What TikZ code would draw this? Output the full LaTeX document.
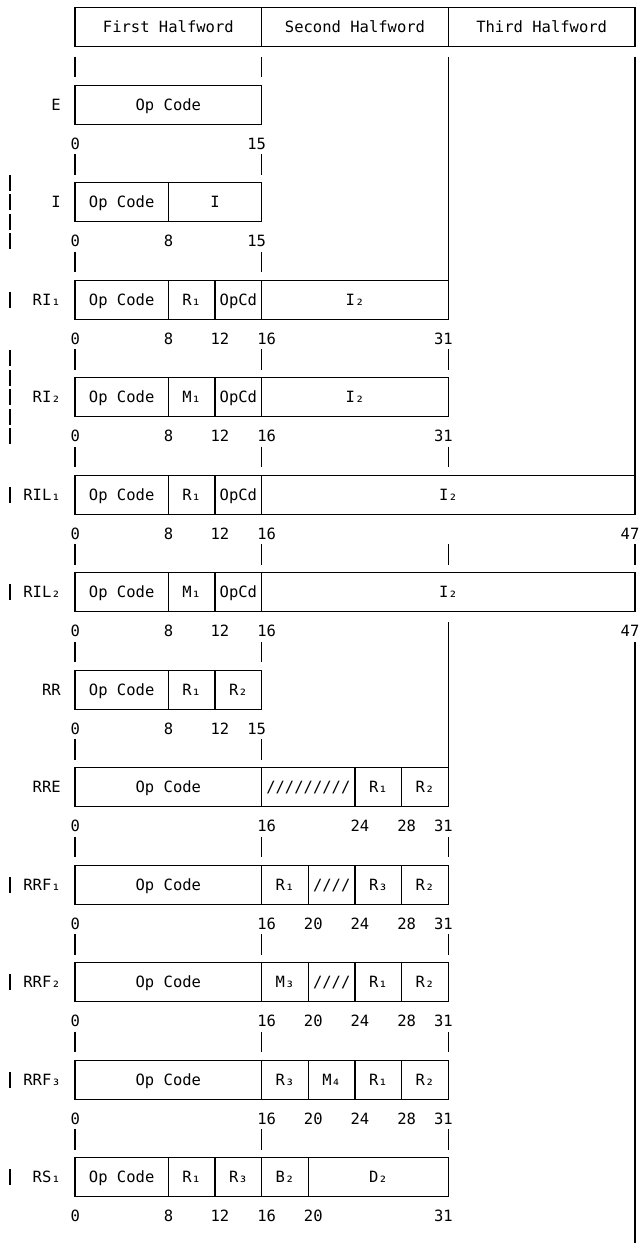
\documentclass[tikz,border=0pt]{standalone}
\usepackage{fontspec}
\newfontfamily\fmtfont{DejaVu Sans Mono}
\newcommand{\fmtnamex}{-1.2}
\newcommand{\fmtbarx}{-5.57}
\newcommand{\fmtup}{0.45}
\newcommand{\fmtdown}{0.6}
\newcommand{\fmttick}[2]{\draw[fmtline] (#1,#2-\fmtup) -- (#1,#2+\fmtdown);}
\newcommand{\chgbar}[1]{\draw[fmtline] (\fmtbarx,#1-0.4) -- (\fmtbarx,#1+0.4);}

\begin{document}
\begin{tikzpicture}[x=8.75pt,y=-14.625pt,
    font=\fmtfont\fontsize{11.63pt}{14pt}\selectfont,
    fmtline/.style={line width=0.8pt},
    every node/.style={inner sep=0pt,text height=8.48pt,text depth=0pt},
    lbls/.style={anchor=west,xshift=-3.5pt},
    lble/.style={anchor=east,xshift=3.5pt},
    fname/.style={anchor=east}]
  \useasboundingbox (-6.4286,0.6308) rectangle (48.6,64.374);

  \draw[fmtline] (0,1) rectangle (48,3) (16,1) -- (16,3) (32,1) -- (32,3);
  \node (hw1) at (8,2) {First Halfword};
  \node (hw2) at (24,2) {Second Halfword};
  \node (hw3) at (40,2) {Third Halfword};
  \fmttick{0}{4} \fmttick{16}{4}
  \draw[fmtline] (32,4-\fmtup) -- (32,15);
  \draw[fmtline] (48,4-\fmtup) -- (48,25);

  \draw[fmtline] (0,5) rectangle (16,7);
  \node[fname] (e-name) at (\fmtnamex,6) {E};
  \node (e-op) at (8,6) {Op Code};
  \node[lbls] (e-b0) at (0,8) {0};
  \node[lble] (e-b15) at (16,8) {15};
  \fmttick{0}{9} \fmttick{16}{9}

  \chgbar{10} \chgbar{11} \chgbar{12} \chgbar{13}
  \draw[fmtline] (0,10) rectangle (16,12) (8,10) -- (8,12);
  \node[fname] (i-name) at (\fmtnamex,11) {I};
  \node (i-op) at (4,11) {Op Code};
  \node (i-i) at (12,11) {I};
  \node[lbls] (i-b0) at (0,13) {0};
  \node[lbls] (i-b8) at (8,13) {8};
  \node[lble] (i-b15) at (16,13) {15};
  \fmttick{0}{14} \fmttick{16}{14}

  \chgbar{16}
  \draw[fmtline] (0,15) rectangle (32,17) (8,15) -- (8,17)
    (12,15) -- (12,17) (16,15) -- (16,17);
  \node[fname] (ria-name) at (\fmtnamex,16) {RI₁};
  \node (ria-op) at (4,16) {Op Code};
  \node (ria-r1) at (10,16) {R₁};
  \node (ria-opcd) at (14,16) {OpCd};
  \node (ria-i2) at (24,16) {I₂};
  \node[lbls] (ria-b0) at (0,18) {0};
  \node[lbls] (ria-b8) at (8,18) {8};
  \node[lbls] (ria-b12) at (12,18) {12};
  \node[lbls] (ria-b16) at (16,18) {16};
  \node[lble] (ria-b31) at (32,18) {31};
  \fmttick{0}{19} \fmttick{16}{19} \fmttick{32}{19}

  \chgbar{19} \chgbar{20} \chgbar{21} \chgbar{22} \chgbar{23}
  \draw[fmtline] (0,20) rectangle (32,22) (8,20) -- (8,22)
    (12,20) -- (12,22) (16,20) -- (16,22);
  \node[fname] (rib-name) at (\fmtnamex,21) {RI₂};
  \node (rib-op) at (4,21) {Op Code};
  \node (rib-m1) at (10,21) {M₁};
  \node (rib-opcd) at (14,21) {OpCd};
  \node (rib-i2) at (24,21) {I₂};
  \node[lbls] (rib-b0) at (0,23) {0};
  \node[lbls] (rib-b8) at (8,23) {8};
  \node[lbls] (rib-b12) at (12,23) {12};
  \node[lbls] (rib-b16) at (16,23) {16};
  \node[lble] (rib-b31) at (32,23) {31};
  \fmttick{0}{24} \fmttick{16}{24} \fmttick{32}{24}

  \chgbar{26}
  \draw[fmtline] (0,25) rectangle (48,27) (8,25) -- (8,27)
    (12,25) -- (12,27) (16,25) -- (16,27);
  \node[fname] (rila-name) at (\fmtnamex,26) {RIL₁};
  \node (rila-op) at (4,26) {Op Code};
  \node (rila-r1) at (10,26) {R₁};
  \node (rila-opcd) at (14,26) {OpCd};
  \node (rila-i2) at (32,26) {I₂};
  \node[lbls] (rila-b0) at (0,28) {0};
  \node[lbls] (rila-b8) at (8,28) {8};
  \node[lbls] (rila-b12) at (12,28) {12};
  \node[lbls] (rila-b16) at (16,28) {16};
  \node[lble] (rila-b47) at (48,28) {47};
  \fmttick{0}{29} \fmttick{16}{29} \fmttick{32}{29} \fmttick{48}{29}

  \chgbar{31}
  \draw[fmtline] (0,30) rectangle (48,32) (8,30) -- (8,32)
    (12,30) -- (12,32) (16,30) -- (16,32);
  \node[fname] (rilb-name) at (\fmtnamex,31) {RIL₂};
  \node (rilb-op) at (4,31) {Op Code};
  \node (rilb-m1) at (10,31) {M₁};
  \node (rilb-opcd) at (14,31) {OpCd};
  \node (rilb-i2) at (32,31) {I₂};
  \node[lbls] (rilb-b0) at (0,33) {0};
  \node[lbls] (rilb-b8) at (8,33) {8};
  \node[lbls] (rilb-b12) at (12,33) {12};
  \node[lbls] (rilb-b16) at (16,33) {16};
  \node[lble] (rilb-b47) at (48,33) {47};
  \fmttick{0}{34} \fmttick{16}{34}
  \draw[fmtline] (32,33-\fmtup) -- (32,40);
  \draw[fmtline] (48,34-\fmtup) -- (48,64.374);

  \draw[fmtline] (0,35) rectangle (16,37) (8,35) -- (8,37) (12,35) -- (12,37);
  \node[fname] (rr-name) at (\fmtnamex,36) {RR};
  \node (rr-op) at (4,36) {Op Code};
  \node (rr-r1) at (10,36) {R₁};
  \node (rr-r2) at (14,36) {R₂};
  \node[lbls] (rr-b0) at (0,38) {0};
  \node[lbls] (rr-b8) at (8,38) {8};
  \node[lbls] (rr-b12) at (12,38) {12};
  \node[lble] (rr-b15) at (16,38) {15};
  \fmttick{0}{39} \fmttick{16}{39}

  \draw[fmtline] (0,40) rectangle (32,42) (16,40) -- (16,42)
    (24,40) -- (24,42) (28,40) -- (28,42);
  \node[fname] (rre-name) at (\fmtnamex,41) {RRE};
  \node (rre-op) at (8,41) {Op Code};
  \node (rre-x) at (20,41) {/////////};
  \node (rre-r1) at (26,41) {R₁};
  \node (rre-r2) at (30,41) {R₂};
  \node[lbls] (rre-b0) at (0,43) {0};
  \node[lbls] (rre-b16) at (16,43) {16};
  \node[lbls] (rre-b24) at (24,43) {24};
  \node[lbls] (rre-b28) at (28,43) {28};
  \node[lble] (rre-b31) at (32,43) {31};
  \fmttick{0}{44} \fmttick{16}{44} \fmttick{32}{44}

  \chgbar{46}
  \draw[fmtline] (0,45) rectangle (32,47) (16,45) -- (16,47)
    (20,45) -- (20,47) (24,45) -- (24,47) (28,45) -- (28,47);
  \node[fname] (rrfa-name) at (\fmtnamex,46) {RRF₁};
  \node (rrfa-op) at (8,46) {Op Code};
  \node (rrfa-r1) at (18,46) {R₁};
  \node (rrfa-x) at (22,46) {////};
  \node (rrfa-r3) at (26,46) {R₃};
  \node (rrfa-r2) at (30,46) {R₂};
  \node[lbls] (rrfa-b0) at (0,48) {0};
  \node[lbls] (rrfa-b16) at (16,48) {16};
  \node[lbls] (rrfa-b20) at (20,48) {20};
  \node[lbls] (rrfa-b24) at (24,48) {24};
  \node[lbls] (rrfa-b28) at (28,48) {28};
  \node[lble] (rrfa-b31) at (32,48) {31};
  \fmttick{0}{49} \fmttick{16}{49} \fmttick{32}{49}

  \chgbar{51}
  \draw[fmtline] (0,50) rectangle (32,52) (16,50) -- (16,52)
    (20,50) -- (20,52) (24,50) -- (24,52) (28,50) -- (28,52);
  \node[fname] (rrfb-name) at (\fmtnamex,51) {RRF₂};
  \node (rrfb-op) at (8,51) {Op Code};
  \node (rrfb-m3) at (18,51) {M₃};
  \node (rrfb-x) at (22,51) {////};
  \node (rrfb-r1) at (26,51) {R₁};
  \node (rrfb-r2) at (30,51) {R₂};
  \node[lbls] (rrfb-b0) at (0,53) {0};
  \node[lbls] (rrfb-b16) at (16,53) {16};
  \node[lbls] (rrfb-b20) at (20,53) {20};
  \node[lbls] (rrfb-b24) at (24,53) {24};
  \node[lbls] (rrfb-b28) at (28,53) {28};
  \node[lble] (rrfb-b31) at (32,53) {31};
  \fmttick{0}{54} \fmttick{16}{54} \fmttick{32}{54}

  \chgbar{56}
  \draw[fmtline] (0,55) rectangle (32,57) (16,55) -- (16,57)
    (20,55) -- (20,57) (24,55) -- (24,57) (28,55) -- (28,57);
  \node[fname] (rrfc-name) at (\fmtnamex,56) {RRF₃};
  \node (rrfc-op) at (8,56) {Op Code};
  \node (rrfc-r3) at (18,56) {R₃};
  \node (rrfc-m4) at (22,56) {M₄};
  \node (rrfc-r1) at (26,56) {R₁};
  \node (rrfc-r2) at (30,56) {R₂};
  \node[lbls] (rrfc-b0) at (0,58) {0};
  \node[lbls] (rrfc-b16) at (16,58) {16};
  \node[lbls] (rrfc-b20) at (20,58) {20};
  \node[lbls] (rrfc-b24) at (24,58) {24};
  \node[lbls] (rrfc-b28) at (28,58) {28};
  \node[lble] (rrfc-b31) at (32,58) {31};
  \fmttick{0}{59} \fmttick{16}{59} \fmttick{32}{59}

  \chgbar{61}
  \draw[fmtline] (0,60) rectangle (32,62) (8,60) -- (8,62)
    (12,60) -- (12,62) (16,60) -- (16,62) (20,60) -- (20,62);
  \node[fname] (rsa-name) at (\fmtnamex,61) {RS₁};
  \node (rsa-op) at (4,61) {Op Code};
  \node (rsa-r1) at (10,61) {R₁};
  \node (rsa-r3) at (14,61) {R₃};
  \node (rsa-b2) at (18,61) {B₂};
  \node (rsa-d2) at (26,61) {D₂};
  \node[lbls] (rsa-b0) at (0,63) {0};
  \node[lbls] (rsa-b8) at (8,63) {8};
  \node[lbls] (rsa-b12) at (12,63) {12};
  \node[lbls] (rsa-b16) at (16,63) {16};
  \node[lbls] (rsa-b20) at (20,63) {20};
  \node[lble] (rsa-b31) at (32,63) {31};
\end{tikzpicture}
\end{document}
